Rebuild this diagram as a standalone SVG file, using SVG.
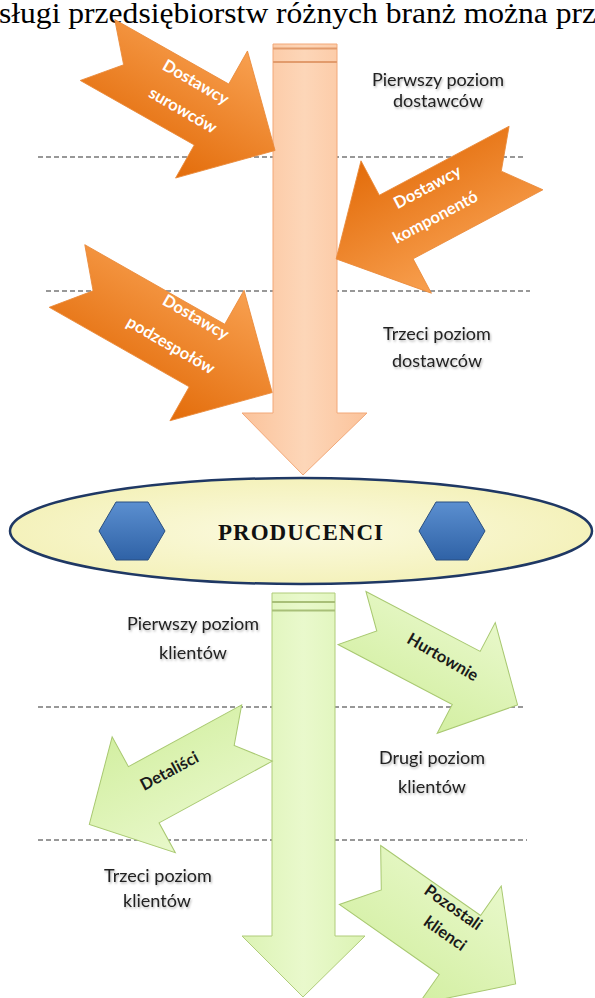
<svg xmlns="http://www.w3.org/2000/svg" width="595" height="998" viewBox="0 0 595 998">
<defs>
<linearGradient id="gOr" x1="0" y1="0" x2="0" y2="1">
<stop offset="0" stop-color="#f8a050"/><stop offset="1" stop-color="#e36c0a"/>
</linearGradient>
<linearGradient id="gPeach" x1="0" y1="0" x2="1" y2="0">
<stop offset="0" stop-color="#fbc39b"/><stop offset="0.5" stop-color="#fdd6b8"/><stop offset="1" stop-color="#fbc39b"/>
</linearGradient>
<linearGradient id="gGreen" x1="0" y1="0" x2="1" y2="0">
<stop offset="0" stop-color="#dcf3b4"/><stop offset="0.5" stop-color="#e9f9cc"/><stop offset="1" stop-color="#dcf3b4"/>
</linearGradient>
<linearGradient id="gGreenA" x1="0" y1="0" x2="0" y2="1">
<stop offset="0" stop-color="#e8f8ca"/><stop offset="1" stop-color="#d3efa2"/>
</linearGradient>
<radialGradient id="gEll" cx="0.5" cy="0.5" r="0.6">
<stop offset="0" stop-color="#fbfae0"/><stop offset="1" stop-color="#f3f0b4"/>
</radialGradient>
<linearGradient id="gHex" x1="0" y1="0" x2="0" y2="1">
<stop offset="0" stop-color="#5b8fd0"/><stop offset="1" stop-color="#2f62a6"/>
</linearGradient>
<filter id="sh" x="-20%" y="-20%" width="140%" height="160%">
<feDropShadow dx="1" dy="1.5" stdDeviation="1.2" flood-color="#000" flood-opacity="0.3"/>
</filter>
</defs>
<style>
.dash{stroke:#333;stroke-width:1.2;stroke-dasharray:5 3;fill:none}
.orA{fill:url(#gOr);stroke:#ea8a3a;stroke-width:0.8}
.grA{fill:url(#gGreenA);stroke:#a8c870;stroke-width:1}
.wt{font-family:Lato,"Open Sans",sans-serif;font-weight:bold;font-size:16.5px;fill:#fff;text-anchor:middle}
.dk{font-family:Lato,"Open Sans",sans-serif;font-weight:bold;font-size:16.5px;fill:#1a1a1a;text-anchor:middle}
.lb{font-family:Lato,"Open Sans",sans-serif;font-size:18px;fill:#222;text-anchor:middle}
</style>
<rect width="595" height="998" fill="#fff"/>
<text x="-1" y="23" font-family="Liberation Serif,serif" font-size="29" fill="#000" textLength="597" lengthAdjust="spacingAndGlyphs">sługi przedsiębiorstw różnych branż można prz</text>

<g id="connectors">
<line class="dash" x1="38" y1="157" x2="525" y2="157"/>
<line class="dash" x1="46" y1="291" x2="530" y2="291"/>
<line class="dash" x1="38" y1="707" x2="523" y2="707"/>
<line class="dash" x1="38" y1="840" x2="527" y2="840"/>
</g>

<g id="supply-arrow">
<path d="M273,44 L337,44 L337,413 L367,413 L303,475 L242,413 L273,413 Z" fill="url(#gPeach)" stroke="#f2a878" stroke-width="1"/>
<line x1="273" y1="48.5" x2="337" y2="48.5" stroke="#e29b6c" stroke-width="2"/>
<line x1="273" y1="62" x2="337" y2="62" stroke="#e29b6c" stroke-width="2"/>
</g>

<g id="client-arrow">
<path d="M272,593 L335,593 L335,936 L365,936 L303,997 L242,936 L272,936 Z" fill="url(#gGreen)" stroke="#b0cc7a" stroke-width="1"/>
<line x1="272" y1="602" x2="335" y2="602" stroke="#a8bf78" stroke-width="2"/>
<line x1="272" y1="610.5" x2="335" y2="610.5" stroke="#a8bf78" stroke-width="2"/>
</g>

<g id="surowcow">
<path class="orA" transform="translate(97.5,50) rotate(29.5)" d="M0,-35 L131,-35 L131,-73 L204,0 L131,73 L131,35 L0,35 L30,0 Z"/>
<text class="wt" transform="translate(193,87) rotate(30)">Dostawcy</text>
<text class="wt" transform="translate(180,115) rotate(30)">surowców</text>
</g>

<g id="komponento">
<path class="orA" transform="translate(526,158) rotate(152)" d="M0,-36 L147,-36 L147,-75 L215,0 L147,75 L147,36 L0,36 L28,0 Z"/>
<text class="wt" transform="translate(430,192) rotate(-28)">Dostawcy</text>
<text class="wt" transform="translate(438,222) rotate(-28)">komponentó</text>
</g>

<g id="podzespolow">
<path class="orA" transform="translate(67,276) rotate(29.6)" d="M0,-36 L161,-36 L161,-75 L236,0 L161,75 L161,36 L0,36 L30,0 Z"/>
<text class="wt" transform="translate(193,322) rotate(30)">Dostawcy</text>
<text class="wt" transform="translate(168,350) rotate(30)">podzespołów</text>
</g>

<g id="producenci">
<ellipse cx="301" cy="531" rx="291" ry="53" fill="url(#gEll)" stroke="#1f3864" stroke-width="2.5"/>
<polygon points="99,531 116,502 148,502 165,531 148,560 116,560" fill="url(#gHex)" stroke="#2a4f80" stroke-width="1"/>
<polygon points="419,531 436,502 468,502 485,531 468,560 436,560" fill="url(#gHex)" stroke="#2a4f80" stroke-width="1"/>
<text x="301" y="540" font-family="Liberation Serif,serif" font-weight="bold" font-size="23" letter-spacing="1" fill="#111" text-anchor="middle">PRODUCENCI</text>
</g>

<g id="hurtownie">
<path class="grA" transform="translate(352,618) rotate(27.7)" d="M0,-30 L129,-30 L129,-62.5 L187,0 L129,62.5 L129,30 L0,30 L28,0 Z"/>
<text class="dk" transform="translate(440,662) rotate(30)">Hurtownie</text>
</g>

<g id="detalisci">
<path class="grA" transform="translate(257,733) rotate(151.4)" d="M0,-32 L129,-32 L129,-66 L191,0 L129,66 L129,32 L0,32 L26,0 Z"/>
<text class="dk" transform="translate(172,776) rotate(-28)">Detaliści</text>
</g>

<g id="pozostali">
<path class="grA" transform="translate(360,875) rotate(35)" d="M0,-36 L122,-36 L122,-72 L190,0 L122,72 L122,36 L0,36 L26,0 Z"/>
<text class="dk" transform="translate(450,912) rotate(35)">Pozostali</text>
<text class="dk" transform="translate(442,938) rotate(35)">klienci</text>
</g>

<g id="labels" filter="url(#sh)">
<text class="lb" x="438" y="86">Pierwszy poziom</text>
<text class="lb" x="438" y="107">dostawców</text>
<text class="lb" x="437" y="340">Trzeci poziom</text>
<text class="lb" x="437" y="367">dostawców</text>
<text class="lb" x="193" y="630">Pierwszy poziom</text>
<text class="lb" x="193" y="659">klientów</text>
<text class="lb" x="432" y="764">Drugi poziom</text>
<text class="lb" x="432" y="793">klientów</text>
<text class="lb" x="158" y="882">Trzeci poziom</text>
<text class="lb" x="157" y="907">klientów</text>
</g>
</svg>
